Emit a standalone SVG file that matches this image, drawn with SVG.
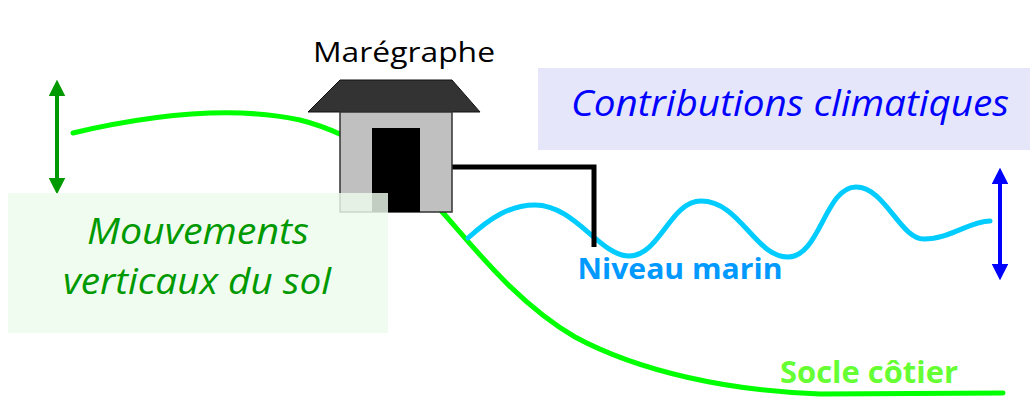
<svg xmlns="http://www.w3.org/2000/svg" width="1032" height="400" viewBox="0 0 1032 400">
  <defs>
    <marker id="headGreen" viewBox="0 0 10 10" refX="5" refY="5" markerWidth="4.2" markerHeight="4.2" orient="auto-start-reverse" markerUnits="strokeWidth">
      <path d="M0,0 L10,5 L0,10 Z" fill="#009900"/>
    </marker>
    <marker id="headBlue" viewBox="0 0 10 10" refX="5" refY="5" markerWidth="4.2" markerHeight="4.2" orient="auto-start-reverse" markerUnits="strokeWidth">
      <path d="M0,0 L10,5 L0,10 Z" fill="#0000ff"/>
    </marker>
    <style>
      .label { font-family: "Open Sans", "Noto Sans", "Liberation Sans", sans-serif; }
      .it { font-style: italic; }
      .bold { font-weight: bold; }
      .line { fill: none; stroke-linecap: round; stroke-linejoin: round; }
    </style>
  </defs>

  <rect width="1032" height="400" fill="#ffffff"/>

  <!-- Ground profile and sea level -->
  <g id="connectors">
    <path id="socle" class="line" stroke="#00ff00" stroke-width="5"
          d="M73,133 C150,115 230,105 300,120 C360,135 410,175 445,215 C480,255 520,305 575,337 C640,372 730,391 820,394 L1003,393"/>
    <path id="niveau-marin-line" class="line" stroke="#00ccff" stroke-width="5"
          d="M468,238 C490,218 510,205 535,205 C575,205 600,256 629,256 C660,256 670,201 701,201 C740,201 755,257 788,257 C820,257 825,187 856,187 C885,187 900,239 924,239 C950,239 970,221 990,221"/>
    <path id="pipe" fill="none" stroke="#000000" stroke-width="5" d="M452,167 H594 V247"/>
    <line id="arrow-sol" x1="57" y1="88" x2="57" y2="186" stroke="#009900" stroke-width="4" marker-start="url(#headGreen)" marker-end="url(#headGreen)"/>
    <line id="arrow-climat" x1="1000" y1="176" x2="1000" y2="272" stroke="#0000ff" stroke-width="4" marker-start="url(#headBlue)" marker-end="url(#headBlue)"/>
  </g>

  <!-- Tide gauge house -->
  <g id="maregraphe">
    <polygon points="340,80 452,80 480,112 308,112" fill="#333333" stroke="#111111" stroke-width="1"/>
    <rect x="340" y="112" width="112" height="100" fill="#c0c0c0" stroke="#333333" stroke-width="1.5"/>
    <rect x="372" y="128" width="48" height="84" fill="#000000"/>
    <text class="label" x="404" y="62" font-size="27" fill="#000000" text-anchor="middle" textLength="182" lengthAdjust="spacingAndGlyphs">Marégraphe</text>
  </g>

  <!-- Ground motion label box -->
  <g id="mouvements">
    <rect x="8" y="193" width="380" height="140" fill="#eefbee" fill-opacity="0.82"/>
    <text class="label it" x="198" y="244" font-size="36" fill="#009900" text-anchor="middle" textLength="222" lengthAdjust="spacingAndGlyphs">Mouvements</text>
    <text class="label it" x="197" y="294" font-size="36" fill="#009900" text-anchor="middle" textLength="268" lengthAdjust="spacingAndGlyphs">verticaux du sol</text>
  </g>

  <!-- Climate contributions label box -->
  <g id="contributions">
    <rect x="538" y="68" width="492" height="82" fill="#e6e6fa"/>
    <text class="label it" x="790" y="116" font-size="36" fill="#0000ff" text-anchor="middle" textLength="438" lengthAdjust="spacingAndGlyphs">Contributions climatiques</text>
  </g>

  <g id="niveau-marin">
    <text class="label bold" x="680" y="279" font-size="28" fill="#0099ff" text-anchor="middle" textLength="205" lengthAdjust="spacingAndGlyphs">Niveau marin</text>
  </g>

  <g id="socle-cotier">
    <text class="label bold" x="869" y="383" font-size="31" fill="#66ff33" text-anchor="middle" textLength="178" lengthAdjust="spacingAndGlyphs">Socle côtier</text>
  </g>
</svg>
